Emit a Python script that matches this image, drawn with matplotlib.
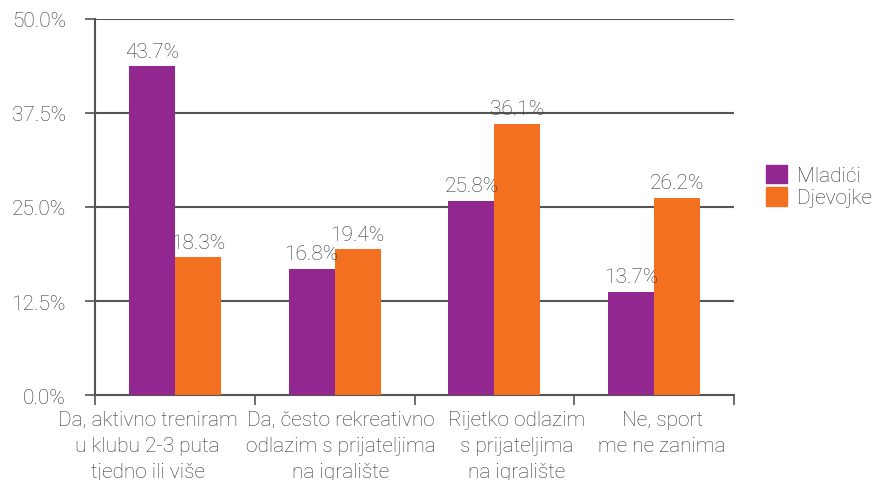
import matplotlib
matplotlib.use("Agg")
import matplotlib.pyplot as plt
import numpy as np
from matplotlib.patches import Patch

categories = ["Da, aktivno treniram\nu klubu 2-3 puta\ntjedno ili više",
              "Da, često rekreativno\nodlazim s prijateljima\nna igralište",
              "Rijetko odlazim\ns prijateljima\nna igralište",
              "Ne, sport\nme ne zanima"]
mladici = [43.7, 16.8, 25.8, 13.7]
djevojke = [18.3, 19.4, 36.1, 26.2]
series_names = ["Mladići", "Djevojke"]
colors = ["#92278F", "#F37021"]
yticks = [0, 12.5, 25, 37.5, 50]
# horizontal nudges of category labels (layout, in category units)
label_shift = [-0.17, 0.04, 0.14, 0.05]

plt.rcParams['font.family'] = ['Roboto', 'DejaVu Sans']
plt.rcParams['font.weight'] = 'light'
txt = "#333333"
gcol = "#555555"
FS = 15

fig = plt.figure(figsize=(8.75, 4.81), dpi=100)
ax = fig.add_axes([95/875, 1-396/481, (734-95)/875, (396-20)/481])

x = np.arange(len(categories))
w = 0.2875
b1 = ax.bar(x - w/2, mladici, w, color=colors[0], zorder=3)
b2 = ax.bar(x + w/2, djevojke, w, color=colors[1], zorder=3)
for bars, vals in ((b1, mladici), (b2, djevojke)):
    for r, v in zip(bars, vals):
        ax.annotate(f"{v:.1f}%", (r.get_x() + r.get_width()/2, v),
                    xytext=(0, 4), textcoords="offset points",
                    ha="center", va="bottom", fontsize=FS, color=txt, fontweight='light')

ax.set_xlim(-0.5, len(categories) - 0.5)
ax.set_ylim(0, 50)
ax.set_yticks(yticks)
ax.set_yticklabels([f"{t:.1f}%" for t in yticks], fontsize=FS, color=txt, fontweight='light')
ax.yaxis.grid(True, color=gcol, linewidth=1.5, zorder=0)
ax.tick_params(axis="y", length=7, width=1.2, color=gcol, pad=14)

ax.set_xticks(np.arange(-0.5, len(categories)))
ax.set_xticklabels([])
ax.tick_params(axis="x", length=7, width=1.2, color=gcol, direction="out")
for xi, lab, sh in zip(x, categories, label_shift):
    ax.annotate(lab, (xi + sh, 0), xycoords=("data", "axes fraction"),
                xytext=(0, -11), textcoords="offset points",
                ha="center", va="top", fontsize=FS, color=txt,
                fontweight='light', linespacing=1.45, annotation_clip=False)

for s in ["top", "right"]:
    ax.spines[s].set_visible(False)
for s in ["left", "bottom"]:
    ax.spines[s].set_color(gcol)
    ax.spines[s].set_linewidth(1.5)

handles = [Patch(color=c, label=n) for c, n in zip(colors, series_names)]
leg = fig.legend(handles=handles, loc="center left", bbox_to_anchor=(766/875, 1-187/481),
                 frameon=False, prop={'size': FS, 'weight': 'light'}, handlelength=1.0, handleheight=1.0,
                 handletextpad=0.5, labelspacing=0.1, borderaxespad=0, borderpad=0)
for t in leg.get_texts():
    t.set_color(txt)

fig.savefig("out.png", dpi=100)
